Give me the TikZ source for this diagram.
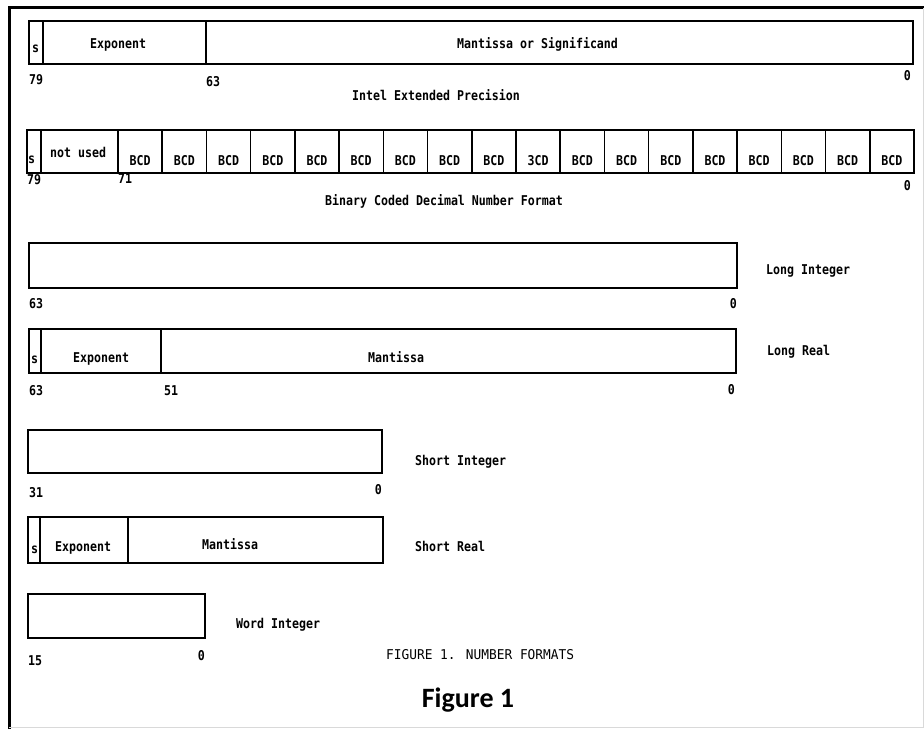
\documentclass[tikz,border=0pt]{standalone}
\usepackage{fontspec}
\newfontfamily\dotfont[FakeStretch=0.86]{DejaVu Sans Mono}
\newfontfamily\capfont[FakeStretch=0.95]{DejaVu Sans Mono}
\newfontfamily\figfont{Carlito}
\tikzset{
  lbl/.style={anchor=base west, inner sep=0pt, font=\dotfont\bfseries\fontsize{13.5}{14}\selectfont},
  lblr/.style={lbl, anchor=base east},
  lblc/.style={lbl, anchor=base},
  field/.style={line width=1.5pt, draw=black},
  divider/.style={line width=1.5pt},
  heavy/.style={line width=2.6pt},
  frame/.style={line width=3pt},
  faint/.style={line width=1pt, draw=black!15},
}
\begin{document}
\begin{tikzpicture}[x=1pt,y=-1pt]
\useasboundingbox (0,0) rectangle (924,729);
% outer frame
\draw[frame] (9,729) -- (9,7.5) -- (924,7.5);
\draw[faint] (9,727) -- (923,727) -- (923,8);

% Row 1: Intel Extended Precision
\draw[field] (29,21) rectangle (913,64);
\draw[divider] (43,21) -- (43,64);
\draw[divider] (206,21) -- (206,64);
\draw[line width=2.2pt] (29,64) -- (913,64);
\node[lbl] (r1s) at (32,52) {s};
\node[lbl] (r1e) at (90,48) {Exponent};
\node[lbl] (r1m) at (457,48) {Mantissa or Significand};
\node[lbl] (r1a) at (29,84) {79};
\node[lbl] (r1b) at (206,86) {63};
\node[lblr] (r1c) at (911,80) {0};
\node[lbl] (r1t) at (352,100) {Intel Extended Precision};

% Row 2: BCD
\draw[field] (27,130) rectangle (914,173);
\draw[divider] (41,130) -- (41,173);
\draw[divider] (118,130) -- (118,173);
\foreach \i in {1,...,17} {
  \draw[divider] ({118+44.222*\i},130) -- ({118+44.222*\i},173);
}
\draw[heavy] (27,173) -- (914,173);
\foreach \i in {0,...,17} {
  \ifnum\i=9
    \node[lblc] (bcd\i) at ({118+44.222*(\i+0.5)},165) {3CD};
  \else
    \node[lblc] (bcd\i) at ({118+44.222*(\i+0.5)},165) {BCD};
  \fi
}
\node[lbl] (r2s) at (28,163) {s};
\node[lbl] (r2n) at (50,157) {not used};
\node[lbl] (r2a) at (27,184) {79};
\node[lbl] (r2b) at (118,183) {71};
\node[lblr] (r2c) at (911,190) {0};
\node[lbl] (r2t) at (325,205) {Binary Coded Decimal Number Format};

% Row 3: Long Integer
\draw[field] (29,243) rectangle (737,288);
\node[lbl] (r3a) at (29,308) {63};
\node[lblr] (r3c) at (737,308) {0};
\node[lbl] (r3t) at (766,274) {Long Integer};

% Row 4: Long Real
\draw[field] (29,329) rectangle (736,373);
\draw[divider] (41,329) -- (41,373);
\draw[divider] (161,329) -- (161,373);
\node[lbl] (r4s) at (31,363) {s};
\node[lbl] (r4e) at (73,362) {Exponent};
\node[lbl] (r4m) at (368,362) {Mantissa};
\node[lbl] (r4a) at (29,395) {63};
\node[lbl] (r4b) at (164,395) {51};
\node[lblr] (r4c) at (735,394) {0};
\node[lbl] (r4t) at (767,355) {Long Real};

% Row 5: Short Integer
\draw[field] (28,430) rectangle (382,473);
\node[lbl] (r5a) at (29,497) {31};
\node[lblr] (r5c) at (382,494) {0};
\node[lbl] (r5t) at (415,465) {Short Integer};

% Row 6: Short Real
\draw[field] (28,517) rectangle (383,563);
\draw[divider] (40,517) -- (40,563);
\draw[divider] (128,517) -- (128,563);
\node[lbl] (r6s) at (31,553) {s};
\node[lbl] (r6e) at (55,551) {Exponent};
\node[lbl] (r6m) at (202,549) {Mantissa};
\node[lbl] (r6t) at (415,551) {Short Real};

% Row 7: Word Integer
\draw[field] (28,594) rectangle (205,638);
\node[lbl] (r7t) at (236,628) {Word Integer};
\node[lbl] (r7a) at (28,665) {15};
\node[lblr] (r7c) at (205,660) {0};

% captions
\node[anchor=base west, inner sep=0pt, font=\capfont\fontsize{13.5}{14}\selectfont] (cap) at (386,659) {FIGURE 1. NUMBER FORMATS};
\node[anchor=base, inner sep=0pt, font=\figfont\bfseries\fontsize{28}{30}\selectfont] (fig) at (468,707) {Figure 1};
\end{tikzpicture}
\end{document}
